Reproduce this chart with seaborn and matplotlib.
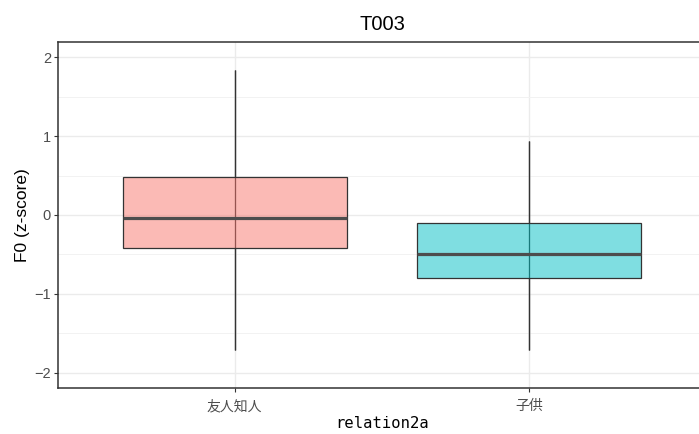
import matplotlib
matplotlib.use("Agg")
import matplotlib.pyplot as plt
from matplotlib.ticker import MultipleLocator
import seaborn as sns
import pandas as pd

# Five-number summaries per relation group (min, Q1, median, Q3, max)
categories = ["友人知人", "子供"]
group_friend = [-1.71, -0.42, -0.04, 0.48, 1.84]
group_child = [-1.71, -0.80, -0.49, -0.10, 0.94]
fill_colors = ["#F8766D", "#00BFC4"]
title_text = "T003"
x_label = "relation2a"
y_label = "F0 (z-score)"

df = pd.DataFrame({
    "relation2a": [categories[0]] * len(group_friend) + [categories[1]] * len(group_child),
    "f0": group_friend + group_child,
})

sns.set_theme(style="white")
plt.rcParams["font.family"] = ["Liberation Sans", "Noto Sans CJK JP", "DejaVu Sans"]

fig = plt.figure(figsize=(6.99, 4.34), dpi=100)
ax = fig.add_axes([58 / 699, 46 / 434, 648 / 699, 346 / 434])

# Whisker spine running underneath the translucent boxes
for i, vals in enumerate([group_friend, group_child]):
    ax.vlines(i, min(vals), max(vals), color="#333333", linewidth=0.9, zorder=1)

sns.boxplot(
    data=df, x="relation2a", y="f0", hue="relation2a", palette=fill_colors,
    order=categories, hue_order=categories, legend=False, saturation=1,
    width=0.76, whis=(0, 100), ax=ax, zorder=2,
    boxprops=dict(edgecolor="#333333", linewidth=0.9),
    whiskerprops=dict(color="#333333", linewidth=0.9),
    capprops=dict(linewidth=0),
    medianprops=dict(color="#4D4D4D", linewidth=2.3),
    showfliers=False,
)
for patch in ax.patches:
    fc = patch.get_facecolor()
    patch.set_facecolor((fc[0], fc[1], fc[2], 0.5))
    patch.set_edgecolor("#333333")

ax.set_xlim(-0.6, 1.6)
ax.set_ylim(-2.19, 2.19)
ax.yaxis.set_major_locator(MultipleLocator(1))
ax.yaxis.set_minor_locator(MultipleLocator(0.5))
ax.grid(which="major", color="#EBEBEB", linewidth=1.0, zorder=0)
ax.grid(which="minor", axis="y", color="#F2F2F2", linewidth=0.7, zorder=0)
ax.set_axisbelow(True)

for spine in ax.spines.values():
    spine.set_color("#333333")
    spine.set_linewidth(1.1)

ax.tick_params(axis="both", which="major", length=3, width=0.8, color="#333333",
               labelcolor="#4D4D4D", labelsize=10.5, left=True, bottom=True, pad=2)
ax.tick_params(axis="x", which="major", pad=5)
ax.tick_params(axis="y", which="minor", length=0)
for lbl in ax.get_xticklabels():
    lbl.set_fontfamily(["Noto Sans CJK JP", "DejaVu Sans"])
    lbl.set_fontsize(10)

ax.set_title(title_text, fontsize=14.5, color="black", pad=9)
ax.set_xlabel(x_label, fontsize=11.2, color="black", labelpad=2,
              fontfamily=["DejaVu Sans Mono"])
ax.set_ylabel(y_label, fontsize=12.5, color="black", labelpad=3,
              fontfamily=["Liberation Sans", "DejaVu Sans"])

fig.savefig("out.png", dpi=100)
